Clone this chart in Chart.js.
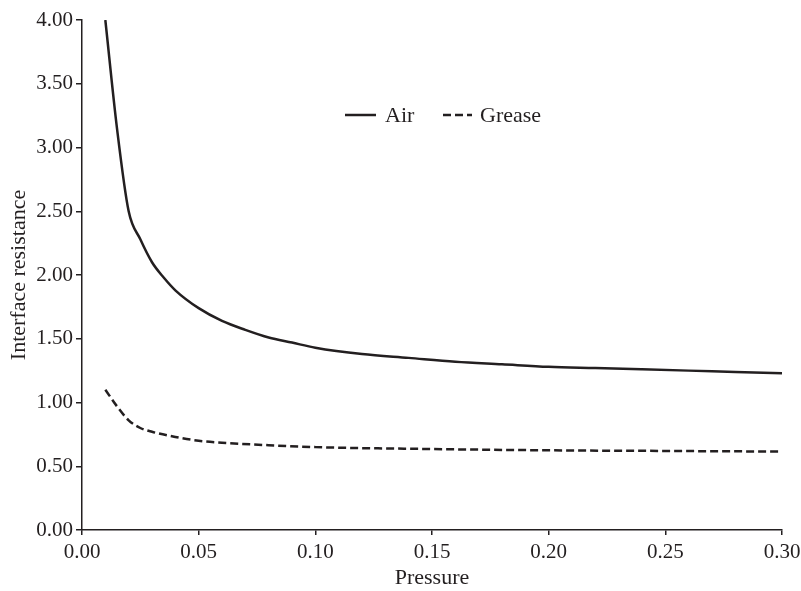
<!DOCTYPE html>
<html>
<head>
<meta charset="utf-8">
<script src="https://cdn.jsdelivr.net/npm/chart.js@4"></script>
<style>
  html, body { margin: 0; padding: 0; background: #fff; }
  #wrap { width: 801px; height: 591px; }
</style>
</head>
<body>
<div id="wrap"><canvas id="chart" width="801" height="591"></canvas></div>
<script>
'use strict';

// ── Data ──
const airPressure = [0.010, 0.015, 0.020, 0.025, 0.030, 0.035, 0.040, 0.050, 0.060, 0.070, 0.080, 0.090, 0.100,
                     0.120, 0.140, 0.160, 0.180, 0.200, 0.220, 0.240, 0.260, 0.280, 0.300];
const airResistance = [4.00, 3.15, 2.50, 2.28, 2.10, 1.98, 1.88, 1.74, 1.64, 1.57, 1.51, 1.47, 1.43,
                       1.38, 1.35, 1.32, 1.30, 1.28, 1.27, 1.26, 1.25, 1.24, 1.23];
const greasePressure = [0.010, 0.015, 0.020, 0.025, 0.030, 0.040, 0.050, 0.060, 0.080, 0.100,
                        0.150, 0.200, 0.250, 0.300];
const greaseResistance = [1.10, 0.97, 0.86, 0.80, 0.77, 0.73, 0.70, 0.685, 0.665, 0.65,
                          0.635, 0.625, 0.62, 0.615];
const seriesNames = ['Air', 'Grease'];
const xTicks = [0, 0.05, 0.10, 0.15, 0.20, 0.25, 0.30];
const yTicks = [0, 0.5, 1.0, 1.5, 2.0, 2.5, 3.0, 3.5, 4.0];

const INK = '#231f20';
const FONT = '"Liberation Serif", "DejaVu Serif", serif';

const toPoints = (xs, ys) => xs.map((x, i) => ({ x, y: ys[i] }));

// Legend drawn inside the plot area, as in the reference
const insideLegend = {
  id: 'insideLegend',
  afterDraw(chart) {
    const c = chart.ctx;
    const y = 115;
    const items = [
      { x0: 345, x1: 376, tx: 385, dash: [], label: seriesNames[0] },
      { x0: 443, x1: 472, tx: 480, dash: [8, 4], label: seriesNames[1] },
    ];
    c.save();
    c.strokeStyle = INK;
    c.fillStyle = INK;
    c.lineWidth = 2.5;
    c.font = '22px ' + FONT;
    c.textBaseline = 'middle';
    c.textAlign = 'left';
    for (const it of items) {
      c.setLineDash(it.dash);
      c.beginPath();
      c.moveTo(it.x0, y);
      c.lineTo(it.x1, y);
      c.stroke();
      c.fillText(it.label, it.tx, y + 1);
    }
    c.restore();
  }
};

new Chart(document.getElementById('chart').getContext('2d'), {
  type: 'line',
  plugins: [insideLegend],
  data: {
    datasets: [
      {
        label: seriesNames[0],
        data: toPoints(airPressure, airResistance),
        borderColor: INK,
        borderWidth: 2.5,
        pointRadius: 0,
        cubicInterpolationMode: 'monotone',
        fill: false,
      },
      {
        label: seriesNames[1],
        data: toPoints(greasePressure, greaseResistance),
        borderColor: INK,
        borderWidth: 2.5,
        borderDash: [8, 4],
        pointRadius: 0,
        cubicInterpolationMode: 'monotone',
        fill: false,
      }
    ]
  },
  options: {
    responsive: false,
    animation: false,
    layout: { padding: { top: 20, right: 19, left: 0, bottom: 0 } },
    plugins: {
      legend: { display: false },
      tooltip: { enabled: false },
    },
    scales: {
      x: {
        type: 'linear',
        min: 0,
        max: 0.30,
        afterBuildTicks(scale) { scale.ticks = xTicks.map(v => ({ value: v })); },
        afterFit(scale) {
          scale.height = 61;
          scale.paddingRight = 0;
        },
        border: { display: true, color: INK, width: 1.5 },
        grid: { drawOnChartArea: false, drawTicks: true, tickLength: 5, color: INK, lineWidth: 1.5 },
        ticks: {
          color: INK,
          padding: 5,
          maxRotation: 0,
          font: { family: FONT, size: 21 },
          callback: v => v.toFixed(2),
        },
        title: {
          display: true,
          text: 'Pressure',
          color: INK,
          font: { family: FONT, size: 22 },
          padding: { top: 0, bottom: 0 },
        }
      },
      y: {
        type: 'linear',
        min: 0,
        max: 4,
        afterBuildTicks(scale) { scale.ticks = yTicks.map(v => ({ value: v })); },
        afterFit(scale) { scale.width = 82; },
        border: { display: true, color: INK, width: 1.5 },
        grid: { drawOnChartArea: false, drawTicks: true, tickLength: 6, color: INK, lineWidth: 1.5 },
        ticks: {
          color: INK,
          padding: 3,
          font: { family: FONT, size: 21 },
          callback: v => v.toFixed(2),
        },
        title: {
          display: true,
          text: 'Interface resistance',
          color: INK,
          font: { family: FONT, size: 22 },
          padding: { top: 6, bottom: 0 },
        }
      }
    }
  }
});
</script>
</body>
</html>
